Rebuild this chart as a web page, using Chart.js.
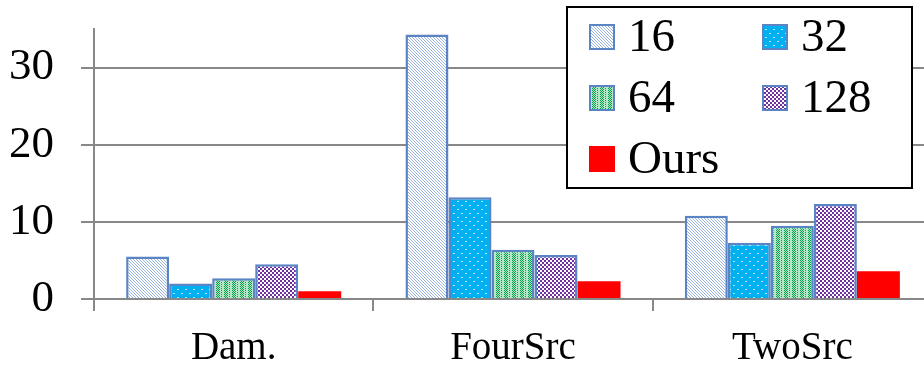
<!DOCTYPE html>
<html lang="en">
<head>
<meta charset="UTF-8">
<title>Bar chart</title>
<script src="https://cdn.jsdelivr.net/npm/chart.js"></script>
<style>
    body { margin: 0; background: #fff; overflow: hidden; }
    #wrap { width: 932px; height: 365px; }
</style>
</head>
<body>
<div id="wrap"><canvas id="chart" width="932" height="365"></canvas></div>
<script>
    // data
    const categories = ['Dam.', 'FourSrc', 'TwoSrc'];
    const seriesLabels = ['16', '32', '64', '128', 'Ours'];
    const s16  = [5.5, 34.3, 10.8];
    const s32  = [2.0, 13.2, 7.3];
    const s64  = [2.7, 6.4, 9.5];
    const s128 = [4.5, 5.7, 12.3];
    const ours = [1.0, 2.3, 3.6];
    const yTicks = [0, 10, 20, 30];

    const FONT = '"Liberation Serif", "Times New Roman", serif';
    const EDGE = '#5b84c4';

    // little tiles for the office-style fill patterns
    function tile(w, h, draw) {
        const c = document.createElement('canvas');
        c.width = w; c.height = h;
        const g = c.getContext('2d');
        draw(g);
        return document.getElementById('chart').getContext('2d').createPattern(c, 'repeat');
    }
    const pat16 = tile(6, 6, g => {
        g.fillStyle = '#fff'; g.fillRect(0, 0, 6, 6);
        g.fillStyle = '#9ab4e0';
        for (let i = 0; i < 6; i++) { g.fillRect(i, i, 1, 1); g.fillRect((i + 3) % 6, i, 1, 1); }
    });
    const pat32 = tile(8, 8, g => {
        g.fillStyle = '#00b0f0'; g.fillRect(0, 0, 8, 8);
        g.fillStyle = '#bfe9fb';
        g.fillRect(1, 1, 2, 1); g.fillRect(5, 5, 2, 1);
    });
    const pat64 = tile(8, 2, g => {
        g.fillStyle = '#b4e8c6'; g.fillRect(0, 0, 8, 2);
        g.fillStyle = '#00a04a';
        g.fillRect(0, 0, 1, 1); g.fillRect(1, 1, 1, 1);
        g.fillRect(2, 0, 1, 1); g.fillRect(3, 1, 1, 1);
        g.fillRect(5, 0, 1, 1);
    });
    const pat128 = tile(4, 4, g => {
        g.fillStyle = '#fff'; g.fillRect(0, 0, 4, 4);
        g.fillStyle = '#7030a0';
        g.fillRect(0, 0, 2, 2); g.fillRect(2, 2, 2, 2);
    });

    const legendBox = {
        id: 'legendBox',
        afterDraw(chart) {
            const ctx = chart.ctx;
            const x0 = 567, y0 = 7, w = 345, h = 181;
            ctx.save();
            ctx.fillStyle = '#fff';
            ctx.fillRect(x0, y0, w, h);
            ctx.strokeStyle = '#000';
            ctx.lineWidth = 2;
            ctx.strokeRect(x0, y0, w, h);
            ctx.font = '47px ' + FONT;
            ctx.textBaseline = 'middle';
            chart.data.datasets.forEach((ds, i) => {
                const col = i % 2, row = Math.floor(i / 2);
                const mx = 589 + col * 173, my = 24 + row * 61;
                ctx.fillStyle = ds.backgroundColor;
                ctx.fillRect(mx, my, 26, 26);
                if (ds.borderWidth) {
                    ctx.strokeStyle = ds.borderColor;
                    ctx.lineWidth = 2;
                    ctx.strokeRect(mx + 1, my + 1, 24, 24);
                }
                ctx.fillStyle = '#000';
                ctx.fillText(ds.label, mx + 39, my + 15);
            });
            ctx.restore();
        }
    };

    const mk = (label, data, bg, border) => ({
        label, data, backgroundColor: bg,
        borderColor: EDGE, borderWidth: border ? 2.5 : 0
    });

    new Chart(document.getElementById('chart'), {
        type: 'bar',
        data: {
            labels: categories,
            datasets: [
                mk(seriesLabels[0], s16, pat16, true),
                mk(seriesLabels[1], s32, pat32, true),
                mk(seriesLabels[2], s64, pat64, true),
                mk(seriesLabels[3], s128, pat128, true),
                mk(seriesLabels[4], ours, '#ff0000', false)
            ]
        },
        options: {
            responsive: false,
            animation: false,
            layout: { padding: { left: -18, top: 29, right: 0, bottom: 0 } },
            plugins: { legend: { display: false }, tooltip: { enabled: false } },
            datasets: { bar: { categoryPercentage: 0.77, barPercentage: 1.0 } },
            scales: {
                x: {
                    afterFit: s => { s.height = 66; },
                    grid: { offset: true, drawOnChartArea: false, drawTicks: true, tickLength: 12, color: '#888', lineWidth: 2 },
                    border: { display: false },
                    ticks: { color: '#000', font: { family: FONT, size: 39 }, padding: 14 }
                },
                y: {
                    min: 0, max: 35,
                    afterBuildTicks: axis => { axis.ticks = yTicks.map(v => ({ value: v })); },
                    afterFit: s => { s.paddingTop = 0; s.paddingBottom = 0; },
                    grid: { color: '#888', lineWidth: 2, tickLength: 13 },
                    border: { color: '#888', width: 2 },
                    ticks: { color: '#000', font: { family: FONT, size: 45 }, padding: 27 }
                }
            }
        },
        plugins: [legendBox]
    });
</script>
</body>
</html>
